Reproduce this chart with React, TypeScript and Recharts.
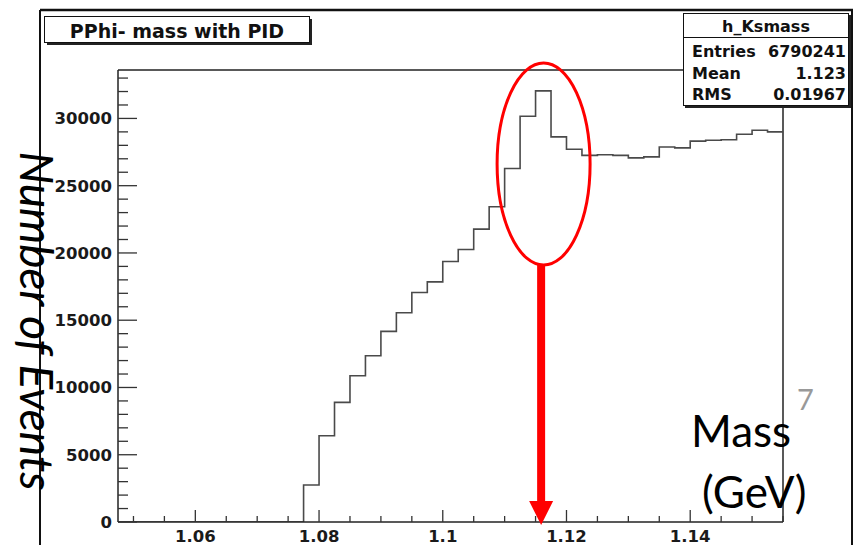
import { ComposedChart, Line, XAxis, YAxis, ReferenceLine, ReferenceDot } from 'recharts';

// histogram bin edges (GeV), one more than the number of bins
const binEdges = [
  1.0475, 1.05, 1.0525, 1.055, 1.0575, 1.06, 1.0625, 1.065, 1.0675, 1.07, 1.0725, 1.075,
  1.0775, 1.08, 1.0825, 1.085, 1.0875, 1.09, 1.0925, 1.095, 1.0975, 1.1, 1.1025, 1.105,
  1.1075, 1.11, 1.1125, 1.115, 1.1175, 1.12, 1.1225, 1.125, 1.1275, 1.13, 1.1325, 1.135,
  1.1375, 1.14, 1.1425, 1.145, 1.1475, 1.15, 1.1525, 1.155,
];

// entries per bin
const binCounts = [
  0, 0, 0, 0, 0, 0, 0, 0, 0, 0, 0, 0,
  2750, 6410, 8890, 10870, 12360, 14170, 15550, 17060, 17850, 19370, 20260, 21770,
  23430, 26280, 30160, 32050, 28630, 27710, 27250, 27300, 27250, 27070, 27140, 27880,
  27810, 28310, 28380, 28420, 28820, 29120, 29000,
];

const yMajorTicks = [0, 5000, 10000, 15000, 20000, 25000, 30000];
const xMajorTicks = [1.06, 1.08, 1.1, 1.12, 1.14];
const xTickLabels = ['1.06', '1.08', '1.1', '1.12', '1.14'];

const statsTitle = 'h_Ksmass';
const statsRows = [
  ['Entries', '6790241'],
  ['Mean', '1.123'],
  ['RMS', '0.01967'],
];

// minor ticks: every 1000 on y, every 0.005 on x
const yTicks = Array.from({ length: 34 }, (_, i) => i * 1000);
const xTicks = Array.from({ length: 22 }, (_, i) => +(1.05 + i * 0.005).toFixed(3));

const data = binEdges.map((edge, i) => ({
  mass: edge,
  events: binCounts[Math.min(i, binCounts.length - 1)],
}));

const tickFont = '"DejaVu Sans", sans-serif';

const YTick = (props: any) => {
  const { x, y, payload } = props;
  const major = yMajorTicks.includes(payload.value);
  return (
    <g>
      <line x1={x} y1={y} x2={x + (major ? 19 : 10)} y2={y} stroke="#333" strokeWidth={1.3} />
      {major && (
        <text x={x - 6} y={y + 6} textAnchor="end" fontFamily={tickFont} fontWeight="bold" fontSize={16.5} fill="#1a1a1a">
          {payload.value}
        </text>
      )}
    </g>
  );
};

const XTick = (props: any) => {
  const { x, y, payload } = props;
  const idx = xMajorTicks.findIndex((t) => Math.abs(t - payload.value) < 1e-6);
  const major = idx >= 0;
  return (
    <g>
      <line x1={x} y1={y} x2={x} y2={y - (major ? 12 : 6)} stroke="#333" strokeWidth={1.3} />
      {major && (
        <text x={x} y={y + 20} textAnchor="middle" fontFamily={tickFont} fontWeight="bold" fontSize={16.5} fill="#1a1a1a">
          {xTickLabels[idx]}
        </text>
      )}
    </g>
  );
};

const PeakEllipse = (props: any) => (
  <ellipse cx={props.cx} cy={props.cy} rx={46.5} ry={101} fill="none" stroke="#f00" strokeWidth={3} />
);

const ArrowHead = (props: any) => (
  <polygon
    points={`${props.cx - 12},${props.cy - 21} ${props.cx + 12},${props.cy - 21} ${props.cx},${props.cy + 3}`}
    fill="#f00"
  />
);

export default function App() {
  return (
    <div style={{ position: 'absolute', left: 0, top: 0, width: 854, height: 545, background: '#fff' }}>
      <ComposedChart width={854} height={545} data={data} margin={{ top: 70, right: 71, bottom: 0, left: 48 }}>
        <XAxis
          type="number"
          dataKey="mass"
          domain={[1.0475, 1.155]}
          allowDataOverflow
          ticks={xTicks}
          interval={0}
          height={23}
          tickSize={0}
          tickMargin={0}
          tickLine={false}
          axisLine={{ stroke: '#222', strokeWidth: 1.5 }}
          tick={(p: any) => <XTick {...p} />}
        />
        <YAxis
          type="number"
          domain={[0, 33600]}
          allowDataOverflow
          ticks={yTicks}
          interval={0}
          width={70}
          tickSize={0}
          tickMargin={0}
          tickLine={false}
          axisLine={{ stroke: '#222', strokeWidth: 1.5 }}
          tick={(p: any) => <YTick {...p} />}
        />
        <ReferenceLine y={33600} stroke="#222" strokeWidth={1.5} />
        <ReferenceLine x={1.155} stroke="#222" strokeWidth={1.5} />
        <Line
          type="stepAfter"
          dataKey="events"
          stroke="#4a4a4a"
          strokeWidth={1.6}
          dot={false}
          isAnimationActive={false}
        />
        <ReferenceDot x={1.1163} y={26610} shape={(p: any) => <PeakEllipse {...p} />} />
        <ReferenceLine
          segment={[
            { x: 1.1159, y: 19100 },
            { x: 1.1159, y: 1500 },
          ]}
          stroke="#f00"
          strokeWidth={8}
        />
        <ReferenceDot x={1.1159} y={0} shape={(p: any) => <ArrowHead {...p} />} />
      </ComposedChart>

      <svg width={854} height={545} style={{ position: 'absolute', left: 0, top: 0, pointerEvents: 'none' }}>
        {/* outer pad frame */}
        <line x1={40} y1={10} x2={853} y2={10} stroke="#111" strokeWidth={2.5} />
        <line x1={40} y1={10} x2={40} y2={545} stroke="#111" strokeWidth={2} />
        <line x1={852} y1={10} x2={852} y2={545} stroke="#111" strokeWidth={2} />

        {/* title box */}
        <rect x={47} y={19} width={265} height={26} fill="#222" />
        <rect x={44.5} y={16.5} width={265} height={26} fill="#fff" stroke="#111" strokeWidth={1} />
        <text x={177} y={37.5} textAnchor="middle" fontFamily={tickFont} fontWeight="bold" fontSize={19} fill="#111">
          PPhi- mass with PID
        </text>

        {/* stats box */}
        <rect x={685} y={15} width={166} height={93} fill="#222" />
        <rect x={683.5} y={13.5} width={165} height={92} fill="#fff" stroke="#111" strokeWidth={1} />
        <text x={766} y={32} textAnchor="middle" fontFamily={tickFont} fontWeight="bold" fontSize={16} fill="#111">
          {statsTitle}
        </text>
        <line x1={683.5} y1={37.5} x2={848.5} y2={37.5} stroke="#111" strokeWidth={1} />
        {statsRows.map(([k, v], i) => (
          <g key={k}>
            <text x={692} y={57 + i * 21.5} fontFamily={tickFont} fontWeight="bold" fontSize={16} fill="#111">
              {k}
            </text>
            <text x={846} y={57 + i * 21.5} textAnchor="end" fontFamily={tickFont} fontWeight="bold" fontSize={16} fill="#111">
              {v}
            </text>
          </g>
        ))}

        {/* slide annotations */}
        <text
          transform="translate(20, 321) rotate(90)"
          textAnchor="middle"
          fontFamily="Lato, sans-serif"
          fontStyle="italic"
          fontSize={46}
          fill="#000"
        >
          Number of Events
        </text>
        <text x={691} y={447} fontFamily="Lato, sans-serif" fontSize={44} fill="#000">
          Mass
        </text>
        <text x={702} y={508} fontFamily="Lato, sans-serif" fontSize={44} fill="#000">
          (GeV)
        </text>
        <text x={797} y={410} fontFamily="Lato, sans-serif" fontSize={29} fill="#999">
          7
        </text>
      </svg>
    </div>
  );
}
